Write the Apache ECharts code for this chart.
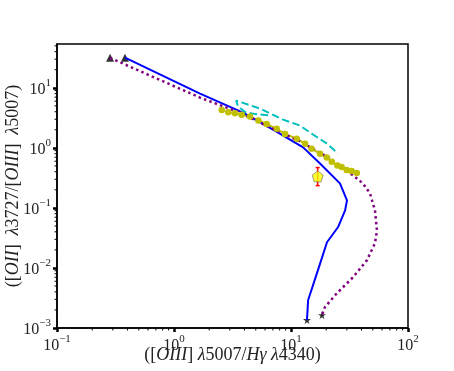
<!DOCTYPE html>
<html><head><meta charset="utf-8">
<script src="https://cdn.jsdelivr.net/npm/echarts@6/dist/echarts.min.js"></script>
<style>html,body{margin:0;padding:0;background:#fff}#c{width:454px;height:371px}</style>
</head><body><div id="c"></div>
<script>
// ---- data ----
const blueX = [0.381, 1.67, 3.89, 7.02, 12.7, 17.7, 26.2, 30.1, 29.0, 25.2, 20.3, 17.0, 14.0, 13.7];
const blueY = [31.8, 8.0, 3.87, 2.02, 1.02, 0.55, 0.256, 0.134, 0.091, 0.0476, 0.0268, 0.0092, 0.0029, 0.00136];
const purpleX = [0.284, 0.624, 1.67, 3.66, 6.62, 11.9, 21.5, 33.9, 41.2, 47.3, 52.2, 54.3, 52.2, 44.6, 33.9, 24.7, 19.5, 18.4];
const purpleY = [31.6, 16.0, 6.87, 3.87, 2.18, 1.28, 0.667, 0.348, 0.256, 0.175, 0.091, 0.042, 0.0258, 0.0135, 0.0070, 0.0038, 0.00223, 0.00164];
const yellowX = [2.56, 2.91, 3.32, 3.79, 4.46, 5.26, 6.20, 7.55, 8.89, 11.2, 13.2, 15.0, 17.7, 20.2, 22.3, 24.9, 27.1, 29.9, 33.0, 36.5];
const yellowY = [4.29, 3.92, 3.77, 3.55, 3.32, 2.85, 2.51, 2.08, 1.71, 1.42, 1.17, 0.97, 0.80, 0.69, 0.59, 0.51, 0.48, 0.43, 0.41, 0.38];
const cyanX = [6.36, 4.92, 4.04, 3.52, 3.39, 5.43, 8.55, 11.9, 15.4, 20.3, 25.2];
const cyanY = [3.5, 3.65, 3.95, 5.0, 6.13, 4.51, 2.96, 2.36, 1.67, 1.18, 0.81];
const triX = [0.284, 0.381];
const triY = [31.6, 31.8];
const starX = [13.7, 18.4];
const starY = [0.00136, 0.00164];
const obsX = [16.9];
const obsY = [0.335];
const obsLow = [0.235];
const obsHigh = [0.47];
const X_MIN = 0.1, X_MAX = 100;
const Y_MIN = 0.001, Y_MAX = Math.pow(10, 1.73);
const xMinor = [0.2,0.3,0.4,0.5,0.6,0.7,0.8,0.9,2,3,4,5,6,7,8,9,20,30,40,50,60,70,80,90];
const yMinor = [0.002,0.003,0.004,0.005,0.006,0.007,0.008,0.009,0.02,0.03,0.04,0.05,0.06,0.07,0.08,0.09,
                0.2,0.3,0.4,0.5,0.6,0.7,0.8,0.9,2,3,4,5,6,7,8,9,20,30,40,50];
const xName = '([{i|OIII}] {i|λ}5007/{i|Hγ} {i|λ}4340)';
const yName = '([{i|OII}]\u2002{i|λ}3727/[{i|OIII}]\u2002{i|λ}5007)';

const zip = (a, b) => a.map((v, i) => [v, b[i]]);
const FONT = 'Liberation Serif';
const TXT = '#222';

function powLabel(v) {
  const l = Math.log10(v);
  const e = Math.round(l);
  if (Math.abs(l - e) > 1e-6) return '';
  const es = e < 0 ? '\u2212' + (-e) : String(e);
  return '{b|10}{s|' + es + '}';
}
const labelRich = {
  b: { fontFamily: FONT, fontSize: 16, color: TXT, verticalAlign: 'bottom', lineHeight: 20 },
  s: { fontFamily: FONT, fontSize: 11, color: TXT, verticalAlign: 'top', lineHeight: 12 }
};
const nameRich = {
  i: { fontFamily: FONT, fontStyle: 'italic', fontSize: 18, color: TXT }
};

const chart = echarts.init(document.getElementById('c'), null, { renderer: 'canvas' });
chart.setOption({
  animation: false,
  backgroundColor: '#fff',
  grid: { left: 57, right: 46, top: 44, bottom: 43, containLabel: false, outerBoundsMode: 'none',
          show: true, borderColor: '#000', borderWidth: 1.5, backgroundColor: 'transparent' },
  xAxis: {
    type: 'log', logBase: 10, min: X_MIN, max: X_MAX, position: 'bottom',
    splitLine: { show: false },
    axisLine: { show: true, lineStyle: { color: '#000', width: 1.5 } },
    axisTick: { show: true, inside: false, length: 4, lineStyle: { color: '#000', width: 2.5 } },
    axisLabel: { formatter: powLabel, rich: labelRich, margin: 6, showMinLabel: true, showMaxLabel: true },
    name: xName, nameLocation: 'middle', nameGap: 18, nameMoveOverlap: false,
    nameTextStyle: { fontFamily: FONT, fontSize: 18, color: TXT, rich: nameRich }
  },
  yAxis: {
    type: 'log', logBase: 10, min: Y_MIN, max: Y_MAX, position: 'left',
    splitLine: { show: false },
    axisLine: { show: true, lineStyle: { color: '#000', width: 1.5 } },
    axisTick: { show: true, inside: false, length: 4, lineStyle: { color: '#000', width: 2.5 } },
    axisLabel: { formatter: powLabel, rich: labelRich, margin: 6, showMinLabel: true, showMaxLabel: false },
    name: yName, nameLocation: 'middle', nameGap: 35, nameMoveOverlap: false,
    nameTextStyle: { fontFamily: FONT, fontSize: 18, color: TXT, rich: nameRich }
  },
  series: [
    { type: 'custom', coordinateSystem: 'cartesian2d', silent: true, clip: false,
      data: xMinor.map(v => [v, Y_MIN]),
      renderItem: (params, api) => {
        const p = api.coord([api.value(0), api.value(1)]);
        return { type: 'line', shape: { x1: p[0], y1: p[1], x2: p[0], y2: p[1] + 2.5 }, style: { stroke: '#000', lineWidth: 1 } };
      } },
    { type: 'custom', coordinateSystem: 'cartesian2d', silent: true, clip: false,
      data: yMinor.map(v => [X_MIN, v]),
      renderItem: (params, api) => {
        const p = api.coord([api.value(0), api.value(1)]);
        return { type: 'line', shape: { x1: p[0], y1: p[1], x2: p[0] - 2.5, y2: p[1] }, style: { stroke: '#000', lineWidth: 1 } };
      } },
    { type: 'line', data: zip(yellowX, yellowY), symbol: 'circle', symbolSize: 6.5, showSymbol: true,
      itemStyle: { color: '#c0c000' }, lineStyle: { color: '#c0c000', width: 2 } },
    { type: 'line', data: zip(blueX, blueY), showSymbol: false, symbol: 'none',
      lineStyle: { color: '#0000ff', width: 2 } },
    { type: 'line', data: zip(purpleX, purpleY), showSymbol: false, symbol: 'none',
      lineStyle: { color: '#800080', width: 2.5, type: [2.5, 3.2] } },
    { type: 'line', data: zip(cyanX, cyanY), showSymbol: false, symbol: 'none',
      lineStyle: { color: '#00bfbf', width: 2, type: [7.5, 3.5] } },
    { type: 'scatter', data: zip(triX, triY), symbol: 'triangle', symbolSize: 8,
      itemStyle: { color: '#000' } },
    { type: 'scatter', data: zip(starX, starY),
      symbol: 'path://M50,0 L61,35 L98,35 L68,57 L79,91 L50,70 L21,91 L32,57 L2,35 L39,35 Z', symbolSize: 8,
      itemStyle: { color: '#000' } },
    { type: 'custom', coordinateSystem: 'cartesian2d', silent: true,
      data: obsX.map((x, i) => [x, obsLow[i], obsHigh[i]]),
      renderItem: (params, api) => {
        const lo = api.coord([api.value(0), api.value(1)]);
        const hi = api.coord([api.value(0), api.value(2)]);
        const st = { stroke: '#ff0000', lineWidth: 1.5 };
        return { type: 'group', children: [
          { type: 'line', shape: { x1: lo[0], y1: lo[1], x2: hi[0], y2: hi[1] }, style: st },
          { type: 'line', shape: { x1: lo[0] - 2, y1: lo[1], x2: lo[0] + 2, y2: lo[1] }, style: st },
          { type: 'line', shape: { x1: hi[0] - 2, y1: hi[1], x2: hi[0] + 2, y2: hi[1] }, style: st }
        ] };
      } },
    { type: 'scatter', data: zip(obsX, obsY),
      symbol: 'path://M50,0 L98,35 L79,91 L21,91 L2,35 Z', symbolSize: 11,
      itemStyle: { color: '#ffff00', borderColor: '#666', borderWidth: 0.8 } }
  ]
});
</script></body></html>
